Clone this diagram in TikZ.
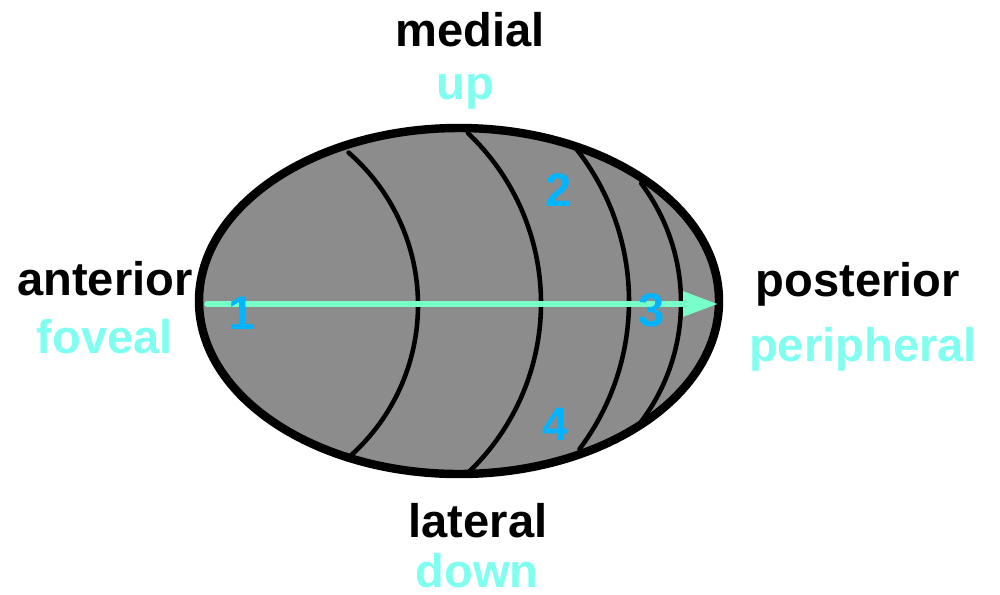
\documentclass[tikz,border=0pt]{standalone}
\usepackage{fontspec}
\setmainfont{Liberation Sans}
\usepackage{tikz}
\usetikzlibrary{arrows.meta,positioning}

\definecolor{retinagray}{HTML}{8C8C8C}
\definecolor{axisgreen}{HTML}{78FFC8}
\definecolor{mapcyan}{HTML}{80FFF0}
\definecolor{numblue}{HTML}{00B4FF}

\begin{document}
\begin{tikzpicture}[
    % --- STYLES ---
    dirlabel/.style={
        anchor=base, inner sep=0pt,
        font=\fontsize{13.4}{16}\selectfont\bfseries
    },
    maplabel/.style={dirlabel, text=mapcyan},
    zonenum/.style={dirlabel, text=numblue},
    outline/.style={draw=black, line width=2.4pt, fill=retinagray},
    isoline/.style={draw=black, line width=1.3pt, line cap=round},
    axis/.style={draw=axisgreen, line width=1.6pt, line cap=round,
        -{Triangle[length=0.35cm, width=0.24cm]}}
]

\useasboundingbox (0,0) rectangle (10,5.94);

% ===== 1. OUTLINE =====
\path[outline] (4.59,2.93) ellipse [x radius=2.60, y radius=1.73];

% ===== 2. ISO LINES =====
\draw[isoline] (2.16,2.89) ++(49:2.02) arc [start angle=49, end angle=-49, radius=2.02];
\draw[isoline] (3.07,2.91) ++(46.5:2.34) arc [start angle=46.5, end angle=-46.5, radius=2.34];
\draw[isoline] (3.83,2.93) ++(38.5:2.46) arc [start angle=38.5, end angle=-37, radius=2.46];
\draw[isoline] (4.83,2.915) ++(37:1.98) arc [start angle=37, end angle=-37, radius=1.98];

% ===== 3. AXIS =====
\coordinate (axisStart) at (2.07,2.90);
\coordinate (axisEnd) at (7.18,2.90);
\draw[axis] (axisStart) -- (axisEnd);

% ===== 4. ZONE NUMBERS =====
\node[zonenum] (num1) at (2.42,2.65) {1};
\node[zonenum] (num2) at (5.59,3.88) {2};
\node[zonenum] (num3) at (6.52,2.68) {3};
\node[zonenum] (num4) at (5.56,1.54) {4};

% ===== 5. DIRECTION LABELS =====
\node[dirlabel] (medial) at (4.70,5.48) {medial};
\node[maplabel] (up) at (4.65,4.95) {up};

\node[dirlabel] (anterior) at (1.05,2.99) {anterior};
\node[maplabel] (foveal) at (1.05,2.41) {foveal};

\node[dirlabel] (posterior) at (8.58,2.98) {posterior};
\node[maplabel] (peripheral) at (8.63,2.33) {peripheral};

\node[dirlabel] (lateral) at (4.78,0.57) {lateral};
\node[maplabel] (down) at (4.77,0.07) {down};

\end{tikzpicture}
\end{document}
